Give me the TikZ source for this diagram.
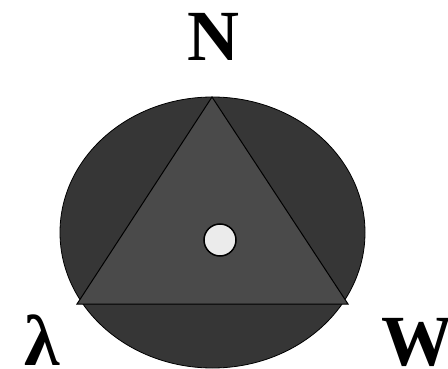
\documentclass[tikz,border=0pt]{standalone}
\usepackage{fontspec}
\setmainfont{Liberation Serif}
\usetikzlibrary{positioning}
\definecolor{outerfill}{HTML}{363636}
\definecolor{innerfill}{HTML}{4A4A4A}
\definecolor{dotfill}{HTML}{EBEBEB}

\begin{document}
\begin{tikzpicture}[x=1pt, y=-1pt,
  lbl/.style={font=\fontsize{72}{80}\selectfont\bfseries, inner sep=0pt, anchor=base},
  disc/.style={draw, fill=outerfill, line width=0.8pt},
  tri/.style={draw, fill=innerfill, line width=1pt, line join=miter},
  dot/.style={draw, circle, fill=dotfill, line width=1.5pt, minimum size=32pt, inner sep=0pt}
]
\useasboundingbox (0,0) rectangle (448,369);
\draw[disc] (212.5,232.5) ellipse [x radius=152.5, y radius=135.5];
\coordinate (top) at (212,97);
\coordinate (left) at (77,304);
\coordinate (right) at (348,304);
\draw[tri] (top) -- (right) -- (left) -- cycle;
\node[dot] (hub) at (220,240) {};
\node[lbl] (north) at (213,61) {N};
\node[lbl] (lambda) at (42,365) {λ};
\node[lbl, anchor=base west] (west) at (381,365) {W};
\end{tikzpicture}
\end{document}
